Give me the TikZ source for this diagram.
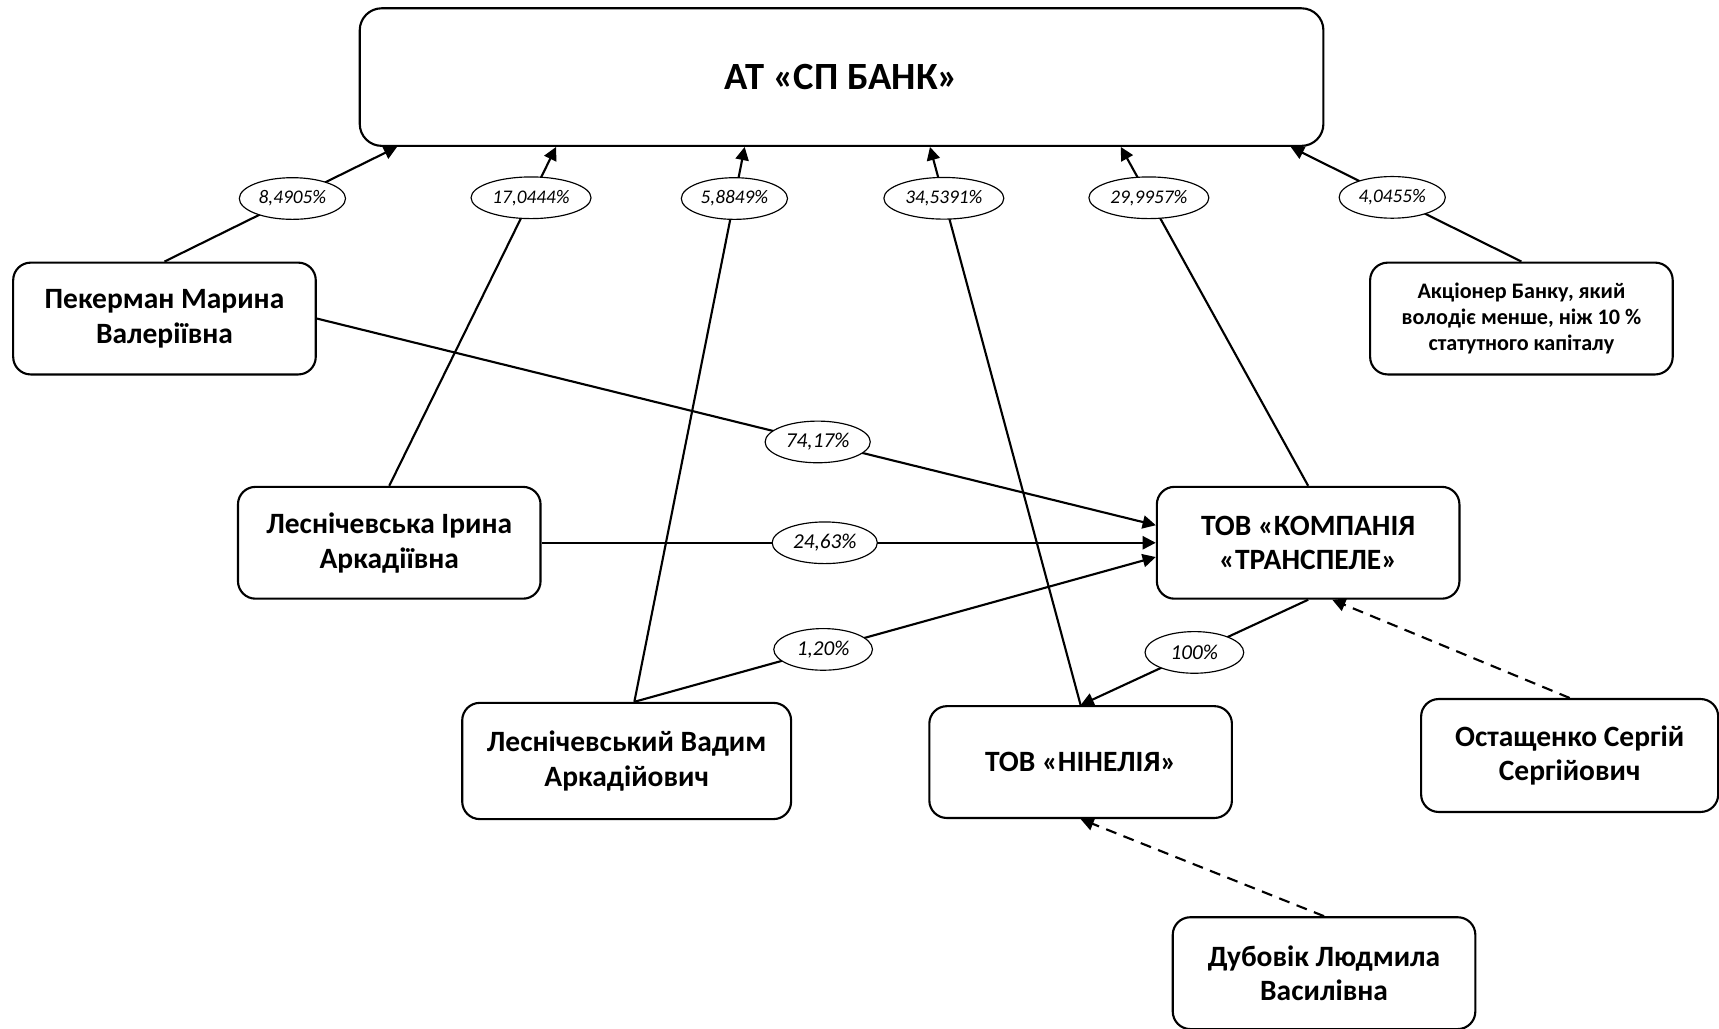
\documentclass[tikz,border=0pt]{standalone}
\usepackage{fontspec}
\setmainfont{Carlito}
\usetikzlibrary{shapes.geometric,arrows.meta,calc}

\tikzset{
	box/.style={draw, line width=1.1pt, rounded corners=0.32cm, align=center, inner sep=0pt,
		minimum width=5.52cm, minimum height=2.04cm, font=\bfseries\fontsize{15.3}{18}\selectfont},
	pct/.style={ellipse, draw, line width=0.6pt, fill=white, inner xsep=0.1cm, inner ysep=0pt,
		minimum width=1.8cm, minimum height=0.76cm, font=\itshape\fontsize{11}{13}\selectfont},
	pcttop/.style={pct, inner xsep=0.07cm, font=\itshape\fontsize{10}{12}\selectfont},
	arr/.style={line width=1.1pt, -{Triangle[length=0.24cm,width=0.24cm]}},
	dsh/.style={arr, dash pattern=on 0.2cm off 0.14cm}
}

\begin{document}
\begin{tikzpicture}[x=0.02cm, y=-0.02cm]
	\useasboundingbox (0,0) rectangle (1567.7,938.4);
	\node[box, minimum width=17.58cm, minimum height=2.51cm, rounded corners=0.4cm,
		font=\bfseries\fontsize{20}{24}\selectfont] (bank) at (767.5,70.3) {АТ «СП БАНК»};
	\node[box] (pek) at (150,290.5) {Пекерман Марина\\Валеріївна};
	\node[box] (lsa) at (355,495) {Леснічевська Ірина\\Аркадіївна};
	\node[box, minimum width=6cm, minimum height=2.12cm] (lsv) at (571.5,694) {Леснічевський Вадим\\Аркадійович};
	\node[box] (komp) at (1193,495) {ТОВ «КОМПАНІЯ\\«ТРАНСПЕЛЕ»};
	\node[box] (nin) at (985.5,695) {ТОВ «НІНЕЛІЯ»};
	\node[box, minimum width=5.42cm, minimum height=2.06cm] (ost) at (1431.5,689) {Остащенко Сергій\\Сергійович};
	\node[box] (dub) at (1207.5,887.5) {Дубовік Людмила\\Василівна};
	\node[box, font=\bfseries\fontsize{11.5}{13.3}\selectfont] (akc) at (1387.5,290.5) {Акціонер Банку, який\\володіє менше, ніж 10 \%\\статутного капіталу};

	\draw[arr] (pek.north) -- node[pcttop, pos=0.55] (p1) {8,4905\%} ($(bank.south west)+(35,0)$);
	\draw[arr] (lsa.north) -- node[pcttop, pos=0.85] (p2) {17,0444\%} ($(bank.south west)+(180,0)$);
	\draw[arr] ($(lsv.north)+(7,0)$) -- node[pcttop, pos=0.907] (p3) {5,8849\%} ($(bank.south west)+(352,0)$);
	\draw[arr] (nin.north) -- node[pcttop, pos=0.908] (p4) {34,5391\%} ($(bank.south west)+(521,0)$);
	\draw[arr] (komp.north) -- node[pcttop, pos=0.85] (p5) {29,9957\%} ($(bank.south west)+(695,0)$);
	\draw[arr] (akc.north) -- node[pcttop, pos=0.56] (p6) {4,0455\%} ($(bank.south west)+(850,0)$);
	\draw[arr] (pek.east) -- node[pct, pos=0.597] (p7) {74,17\%} ($(komp.west)+(0,-16)$);
	\draw[arr] (lsa.east) -- node[pct, pos=0.461] (p8) {24,63\%} (komp.west);
	\draw[arr] ($(lsv.north)+(7,0)$) -- node[pct, pos=0.362] (p9) {1,20\%} ($(komp.west)+(0,13)$);
	\draw[arr] (komp.south) -- node[pct, pos=0.5] (p10) {100\%} (nin.north);
	\draw[dsh] (ost.north) -- ($(komp.south)+(22,0)$);
	\draw[dsh] (dub.north) -- (nin.south);
\end{tikzpicture}
\end{document}
